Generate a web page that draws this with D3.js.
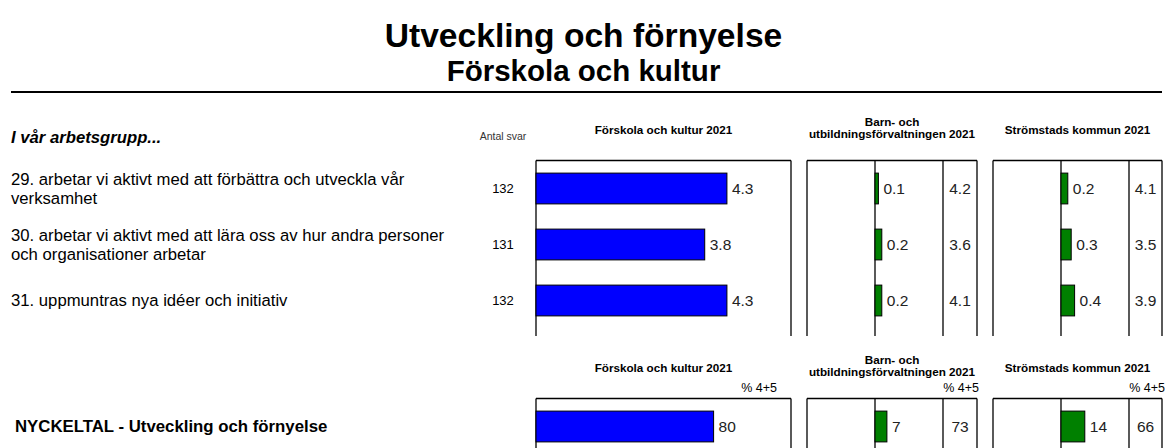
<!DOCTYPE html>
<html>
<head>
<meta charset="utf-8">
<script src="https://cdn.jsdelivr.net/npm/d3@7"></script>
<style>
  body { margin: 0; background: #fff; }
  text { font-family: "Liberation Sans", Arial, sans-serif; fill: #000; }
</style>
</head>
<body>
<svg id="chart" width="1167" height="448"></svg>
<script>
// ---- data ----
const questions = [
    ["29. arbetar vi aktivt med att förbättra och utveckla vår", "verksamhet"],
    ["30. arbetar vi aktivt med att lära oss av hur andra personer", "och organisationer arbetar"],
    ["31. uppmuntras nya idéer och initiativ"]
];
const antalSvar = [132, 131, 132];
const unitMeans = [4.3, 3.8, 4.3];
const bufDiff = [0.1, 0.2, 0.2];
const bufMeans = [4.2, 3.6, 4.1];
const kommunDiff = [0.2, 0.3, 0.4];
const kommunMeans = [4.1, 3.5, 3.9];

const nyckeltalLabel = ["NYCKELTAL - Utveckling och förnyelse"];
const nyckelUnit = [80];
const nyckelBufDiff = [7];
const nyckelBuf = [73];
const nyckelKommunDiff = [14];
const nyckelKommun = [66];

const panelTitles = [
    ["Förskola och kultur 2021"],
    ["Barn- och", "utbildningsförvaltningen 2021"],
    ["Strömstads kommun 2021"]
];

// ---- layout ----
const W = 1167, H = 448;
const P1 = { left: 536, right: 791, barEnd: 758 };
const P2 = { left: 807, div: 943, right: 977 };
const P3 = { left: 993, div: 1129, right: 1162 };
const ROW_STEP = 56;

const svg = d3.select("#chart");

// ---- titles ----
svg.append("text")
    .attr("x", W / 2).attr("y", 47)
    .attr("text-anchor", "middle")
    .style("font-size", "33.6px").style("font-weight", "bold")
    .text("Utveckling och förnyelse");

svg.append("text")
    .attr("x", W / 2).attr("y", 81)
    .attr("text-anchor", "middle")
    .style("font-size", "29.5px").style("font-weight", "bold")
    .text("Förskola och kultur");

svg.append("line")
    .attr("x1", 11).attr("x2", 1162)
    .attr("y1", 92).attr("y2", 92)
    .attr("stroke", "#000").attr("stroke-width", 2);

/**
 * Draw one block of panels (question rows or key figure row)
 */
function drawSection(cfg) {
    const g = svg.append("g");
    const n = cfg.unit.length;
    const idx = d3.range(n);

    const y = d3.scaleBand()
        .domain(idx)
        .range([cfg.top, cfg.top + ROW_STEP * n])
        .paddingInner(0.45)
        .paddingOuter(0.225);

    const xUnit = d3.scaleLinear().domain(cfg.unitDomain).range([P1.left, P1.barEnd]);
    const xBuf = d3.scaleLinear().domain(cfg.diffDomain).range([P2.left, P2.div]);
    const xKom = d3.scaleLinear().domain(cfg.diffDomain).range([P3.left, P3.div]);

    // panel frames (open at the bottom)
    const frame = (xs) => {
        g.append("line")
            .attr("x1", xs[0]).attr("x2", xs[xs.length - 1])
            .attr("y1", cfg.top).attr("y2", cfg.top)
            .attr("stroke", "#000").attr("stroke-width", 1.3);
        xs.forEach(x => {
            g.append("line")
                .attr("x1", x).attr("x2", x)
                .attr("y1", cfg.top).attr("y2", cfg.bottom)
                .attr("stroke", "#000").attr("stroke-width", 1.3);
        });
    };
    frame([P1.left, P1.right]);
    frame([P2.left, xBuf(0), P2.div, P2.right]);
    frame([P3.left, xKom(0), P3.div, P3.right]);

    // panel headers
    const centers = [(P1.left + P1.right) / 2, (P2.left + P2.right) / 2, (P3.left + P3.right) / 2];
    panelTitles.forEach((lines, i) => {
        const t = g.append("text")
            .attr("text-anchor", "middle")
            .style("font-size", "11.7px").style("font-weight", "bold");
        lines.forEach((line, j) => {
            const cy = lines.length === 1 ? cfg.top - 31 : cfg.top - 39 + j * 12.5;
            t.append("tspan")
                .attr("x", centers[i]).attr("y", cy).attr("dy", "0.35em")
                .text(line);
        });
    });

    if (cfg.pct) {
        [777, 979, 1165].forEach(x => {
            g.append("text")
                .attr("x", x).attr("y", cfg.top - 6.5)
                .attr("text-anchor", "end")
                .style("font-size", "12.5px")
                .text("% 4+5");
        });
    }

    // row labels
    const labels = g.selectAll(".row-label")
        .data(cfg.labels)
        .join("text")
        .attr("class", "row-label")
        .style("font-size", cfg.labelSize)
        .style("font-weight", cfg.labelWeight);
    labels.each(function(lines, i) {
        const t = d3.select(this);
        const c = y(i) + y.bandwidth() / 2;
        lines.forEach((line, j) => {
            t.append("tspan")
                .attr("x", cfg.labelX)
                .attr("y", c + (j - (lines.length - 1) / 2) * 19)
                .attr("dy", "0.35em")
                .text(line);
        });
    });

    // answer counts
    if (cfg.counts) {
        g.selectAll(".count")
            .data(cfg.counts)
            .join("text")
            .attr("class", "count")
            .attr("x", 503)
            .attr("y", (d, i) => y(i) + y.bandwidth() / 2)
            .attr("dy", "0.35em")
            .attr("text-anchor", "middle")
            .style("font-size", "13px")
            .text(d => d);
    }

    // unit bars
    g.selectAll(".unit-bar")
        .data(cfg.unit)
        .join("rect")
        .attr("class", "unit-bar")
        .attr("x", xUnit(0))
        .attr("y", (d, i) => y(i))
        .attr("width", d => xUnit(d) - xUnit(0))
        .attr("height", y.bandwidth())
        .attr("fill", "#0000ff")
        .attr("stroke", "#000").attr("stroke-width", 1);

    g.selectAll(".unit-val")
        .data(cfg.unit)
        .join("text")
        .attr("class", "unit-val")
        .attr("x", d => xUnit(d) + 5)
        .attr("y", (d, i) => y(i) + y.bandwidth() / 2)
        .attr("dy", "0.35em")
        .style("font-size", "15.5px")
        .style("fill", "#222")
        .text(cfg.fmt);

    // difference panels
    const diffPanel = (diffs, means, x, p) => {
        g.selectAll(null)
            .data(diffs)
            .join("rect")
            .attr("x", d => x(Math.min(0, d)))
            .attr("y", (d, i) => y(i))
            .attr("width", d => Math.abs(x(d) - x(0)))
            .attr("height", y.bandwidth())
            .attr("fill", "#008000")
            .attr("stroke", "#000").attr("stroke-width", 1);

        g.selectAll(null)
            .data(diffs)
            .join("text")
            .attr("x", d => x(Math.max(0, d)) + 5)
            .attr("y", (d, i) => y(i) + y.bandwidth() / 2)
            .attr("dy", "0.35em")
            .style("font-size", "15.5px")
            .style("fill", "#222")
            .text(cfg.fmt);

        g.selectAll(null)
            .data(means)
            .join("text")
            .attr("x", (p.div + p.right) / 2)
            .attr("y", (d, i) => y(i) + y.bandwidth() / 2)
            .attr("dy", "0.35em")
            .attr("text-anchor", "middle")
            .style("font-size", "15.5px")
            .style("fill", "#222")
            .text(cfg.fmt);
    };
    diffPanel(cfg.bufDiff, cfg.buf, xBuf, P2);
    diffPanel(cfg.komDiff, cfg.kom, xKom, P3);
}

// ---- question block ----
svg.append("text")
    .attr("x", 11).attr("y", 137).attr("dy", "0.35em")
    .style("font-size", "16.7px").style("font-weight", "bold").style("font-style", "italic")
    .text("I vår arbetsgrupp...");

svg.append("text")
    .attr("x", 503).attr("y", 136).attr("dy", "0.35em")
    .attr("text-anchor", "middle")
    .style("font-size", "10.5px").style("fill", "#333")
    .text("Antal svar");

drawSection({
    top: 160.5, bottom: 336,
    labels: questions, labelX: 11, labelSize: "16.7px", labelWeight: "normal",
    counts: antalSvar,
    unit: unitMeans, unitDomain: [0, 5],
    bufDiff: bufDiff, buf: bufMeans,
    komDiff: kommunDiff, kom: kommunMeans,
    diffDomain: [-2, 2],
    fmt: d => d3.format(".1f")(d),
    pct: false
});

// ---- key figure block ----
drawSection({
    top: 398.5, bottom: 470,
    labels: [nyckeltalLabel], labelX: 15, labelSize: "16.8px", labelWeight: "bold",
    counts: null,
    unit: nyckelUnit, unitDomain: [0, 100],
    bufDiff: nyckelBufDiff, buf: nyckelBuf,
    komDiff: nyckelKommunDiff, kom: nyckelKommun,
    diffDomain: [-40, 40],
    fmt: d => d3.format("d")(d),
    pct: true
});
</script>
</body>
</html>
